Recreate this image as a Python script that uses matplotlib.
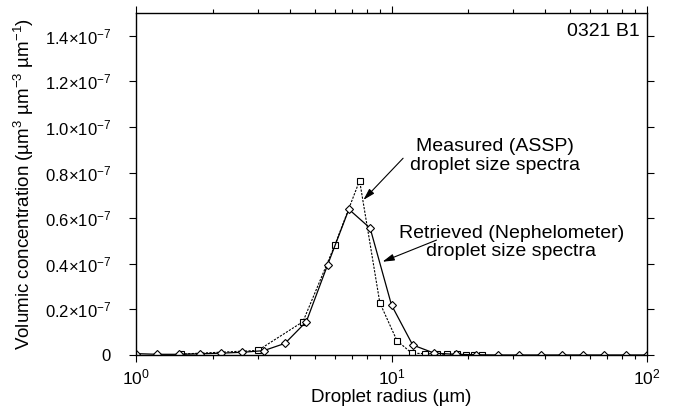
import matplotlib

matplotlib.use("Agg")
import matplotlib.pyplot as plt
import numpy as np
from matplotlib.ticker import FixedLocator, NullFormatter

plt.rcParams["font.family"] = ["Liberation Sans", "DejaVu Sans"]
plt.rcParams["mathtext.fontset"] = "custom"
plt.rcParams["mathtext.rm"] = "Liberation Sans"
plt.rcParams["mathtext.it"] = "Liberation Sans:italic"

# measured (ASSP) droplet size spectra, radius in um
assp_r = [1.5, 3.0, 4.5, 6.0, 7.5, 9.0, 10.5, 12.0, 13.5, 15.0, 16.5, 18.0, 19.5, 21.0, 22.5]
assp_v = [0.004, 0.02, 0.146, 0.482, 0.765, 0.229, 0.063, 0.008, 0.006, 0.004, 0.003,
          0.003, 0.002, 0.002, 0.002]

# retrieved (nephelometer) spectra on a log grid, 12 bins per decade
neph_r = [1.0, 1.21, 1.47, 1.78, 2.15, 2.61, 3.16, 3.83, 4.64, 5.62, 6.81, 8.25,
          10.0, 12.1, 14.7, 17.8, 21.5, 26.1, 31.6, 38.3, 46.4, 56.2, 68.1, 82.5, 100.0]
neph_v = [0.006, 0.003, 0.003, 0.005, 0.008, 0.012, 0.019, 0.051, 0.146, 0.395, 0.639,
          0.556, 0.219, 0.044, 0.008, 0.003, 0.001, 0.0, 0.0, 0.0, 0.0, 0.0, 0.0, 0.0, 0.0]

y_ticks = [0, 0.2, 0.4, 0.6, 0.8, 1.0, 1.2, 1.4]
y_labels = ["0"] + [rf"{v:.1f}$\times$10$^{{-7}}$" for v in y_ticks[1:]]

fig = plt.figure(figsize=(6.73, 4.15), dpi=100)
ax = fig.add_axes([0.2021, 0.1446, 0.7593, 0.8241])

ax.plot(assp_r, np.array(assp_v) * 1e-7, color="black", lw=0.8, ls=(0, (2, 1.2)),
        marker="s", ms=4, mfc="white", mec="black", mew=0.8)
ax.plot(neph_r, np.array(neph_v) * 1e-7, color="black", lw=0.9,
        marker="D", ms=4, mfc="white", mec="black", mew=0.8)

ax.set_xscale("log")
ax.set_xlim(1, 100)
ax.set_ylim(0, 1.5e-7)
ax.yaxis.set_major_locator(FixedLocator(np.array(y_ticks) * 1e-7))
ax.set_yticklabels(y_labels)
ax.xaxis.set_minor_formatter(NullFormatter())

ax.tick_params(which="both", direction="out", top=True, right=True,
               labelsize=12, width=0.8)
ax.tick_params(which="major", length=5)
ax.tick_params(which="minor", length=3)
ax.tick_params(axis="y", pad=13)
ax.tick_params(axis="x", labelsize=12.5, pad=4)
for s in ax.spines.values():
    s.set_linewidth(1.0)

ax.set_xlabel("Droplet radius (µm)", fontsize=13.5, labelpad=1)
ax.set_ylabel(r"Volumic concentration (µm$^{3}$ µm$^{-3}$ µm$^{-1}$)", fontsize=13.5, labelpad=6)

ax.text(0.986, 0.945, "0321 B1", transform=ax.transAxes, ha="right", va="center", fontsize=14)

ax.text(25.4, 0.873e-7, "Measured (ASSP)\ndroplet size spectra", ha="center", va="center",
        fontsize=14, linespacing=1.1)
ax.text(29.4, 0.493e-7, "Retrieved (Nephelometer)\ndroplet size spectra", ha="center",
        va="center", fontsize=14, linespacing=1.1)

arrow = dict(arrowstyle="-|>,head_length=0.7,head_width=0.2", color="black",
             lw=0.8, shrinkA=0, shrinkB=0)
ax.annotate("", xy=(7.76, 0.68e-7), xytext=(11.1, 0.863e-7), arrowprops=arrow)
ax.annotate("", xy=(9.22, 0.409e-7), xytext=(15.0, 0.504e-7), arrowprops=arrow)

fig.savefig("out.png", dpi=100)
